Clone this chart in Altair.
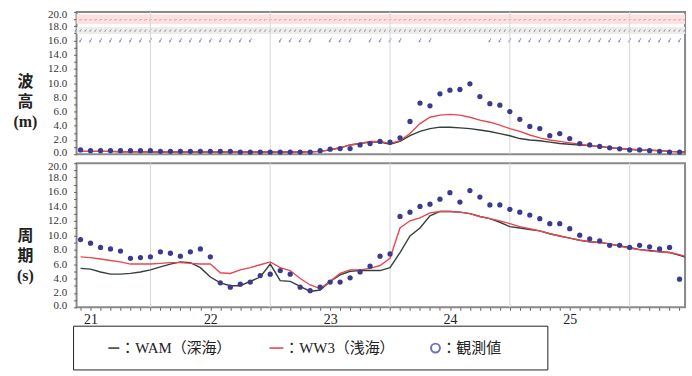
import altair as alt
import pandas as pd

# ---------------- data ----------------
# hours counted from day 21, 00:00 ; observations every 2 h
obs_hours = list(range(-2, 119, 2))          # 61 obs times
model_hours = list(range(-2, 121, 2))        # 62 model times
model_dir_hours = list(range(-3, 120))       # hourly model direction glyphs
grid_hours = [12, 36, 60, 84, 108]
day_ticks = list(range(-2, 119, 2))

obs_height = [0.6, 0.5, 0.5, 0.5, 0.5, 0.5, 0.5, 0.5, 0.4, 0.4, 0.4, 0.4, 0.4, 0.4, 0.4,
              0.4, 0.3, 0.3, 0.3, 0.3, 0.3, 0.3, 0.3, 0.3, 0.5, 0.7, 0.8, 0.8, 1.3, 1.5,
              1.8, 1.7, 2.3, 4.6, 7.2, 6.8, 8.5, 9.0, 9.1, 9.9, 8.1, 7.1, 6.9, 6.0, 4.9,
              3.9, 3.6, 2.6, 2.9, 2.2, 1.5, 1.3, 1.1, 0.9, 0.75, 0.6, 0.6, 0.5, 0.4, 0.3, 0.3]
obs_period = [9.4, 8.9, 8.3, 8.1, 7.8, 6.8, 6.9, 7.0, 7.7, 7.5, 7.1, 7.7, 8.1, 7.0, 3.4,
              2.8, 3.2, 3.5, 4.4, 4.6, 5.1, 4.6, 2.8, 2.3, 2.8, 3.5, 3.5, 4.1, 4.9, 5.7,
              7.1, 7.4, 12.6, 13.2, 14.0, 14.3, 15.0, 15.9, 14.6, 16.2, 15.3, 14.2, 14.2,
              13.6, 13.2, 12.8, 12.3, 11.6, 11.6, 10.9, 10.0, 9.5, 9.2, 8.6, 8.6, 8.3, 8.6,
              8.4, 8.1, 8.3, 3.9]
obs_dir_hours = [-2, 0, 2, 4, 6, 8, 10, 12, 14, 16, 18, 20, 22, 24, 26, 28, 30, 32,
                 38, 40, 42, 44, 48, 50, 52, 56, 58, 60, 62, 66, 68,
                 80, 82, 84, 86, 88, 90, 92, 94, 96, 98, 100, 102, 104, 106, 108, 110,
                 112, 114, 116, 118]

wam_height = [0.4, 0.4, 0.4, 0.4, 0.35, 0.35, 0.35, 0.3, 0.3, 0.3, 0.3, 0.3, 0.3, 0.3,
              0.3, 0.3, 0.3, 0.3, 0.3, 0.3, 0.3, 0.3, 0.3, 0.35, 0.4, 0.6, 0.9, 1.3, 1.5,
              1.7, 1.7, 1.4, 1.8, 2.6, 3.2, 3.6, 3.8, 3.8, 3.7, 3.6, 3.4, 3.2, 2.9, 2.6,
              2.2, 2.0, 1.9, 1.7, 1.5, 1.4, 1.3, 1.2, 1.1, 0.9, 0.8, 0.7, 0.6, 0.55, 0.5,
              0.4, 0.35, 0.3]
ww3_height = [0.4, 0.4, 0.4, 0.4, 0.35, 0.35, 0.35, 0.3, 0.3, 0.3, 0.3, 0.3, 0.3, 0.3,
              0.3, 0.3, 0.3, 0.3, 0.3, 0.3, 0.3, 0.3, 0.3, 0.35, 0.4, 0.6, 0.9, 1.3, 1.5,
              1.8, 1.8, 1.5, 1.9, 2.9, 4.3, 5.2, 5.5, 5.6, 5.5, 5.2, 4.8, 4.5, 4.1, 3.6,
              3.2, 2.7, 2.3, 2.0, 1.8, 1.6, 1.4, 1.2, 1.1, 0.9, 0.8, 0.7, 0.6, 0.55, 0.5,
              0.4, 0.35, 0.3]
wam_period = [5.4, 5.3, 4.9, 4.6, 4.6, 4.7, 4.9, 5.2, 5.6, 6.0, 6.3, 6.2, 5.5, 4.2, 3.4,
              3.0, 3.0, 3.6, 4.2, 6.0, 3.7, 3.6, 2.9, 2.2, 2.4, 3.6, 4.5, 5.0, 5.1, 5.1,
              5.1, 5.5, 7.6, 9.9, 11.0, 12.7, 13.3, 13.3, 13.2, 13.0, 12.6, 12.3, 11.8,
              11.2, 11.0, 10.8, 10.6, 10.2, 9.9, 9.6, 9.3, 9.1, 9.0, 8.8, 8.5, 8.3, 8.0,
              7.9, 7.7, 7.6, 7.2, 6.8]
ww3_period = [7.0, 6.9, 6.7, 6.5, 6.3, 6.0, 6.0, 6.0, 6.1, 6.2, 6.2, 6.1, 6.0, 6.0, 4.8,
              4.7, 5.2, 5.5, 5.9, 6.3, 5.5, 5.1, 4.0, 3.1, 2.6, 3.6, 4.7, 5.2, 5.2, 5.4,
              5.8, 6.8, 11.0, 12.0, 12.4, 13.1, 13.3, 13.3, 13.2, 13.0, 12.6, 12.3, 12.0,
              11.6, 11.2, 10.9, 10.6, 10.2, 9.9, 9.6, 9.3, 9.1, 9.0, 8.8, 8.5, 8.2, 8.0,
              7.8, 7.7, 7.6, 7.3, 6.9]

models = ["WAM", "WW3"]
model_colors = ["#34403a", "#e8474f"]
y_levels = list(range(0, 21))

# ---------------- helpers ----------------
W, H1, H2 = 612, 143, 145
xscale = alt.Scale(domain=[-2.8, 119.1], nice=False, zero=False)
yscale = alt.Scale(domain=[0, 20], nice=False, zero=True)
SERIF = "Liberation Serif"
CJK = "Noto Sans CJK JP"


def y_axis(title, title_y):
    return alt.Axis(values=y_levels, labelExpr="datum.value % 2 == 0 ? format(datum.value, '.1f') : ''",
                    title=title, titleAngle=0, titleAlign="center", titleBaseline="middle",
                    titleX=-52, titleY=title_y, titleFont=f"{SERIF}, {CJK}", titleFontSize=16,
                    titleFontWeight="bold", titleLineHeight=20, titleColor="#222",
                    labelFont=SERIF, labelFontSize=11, labelColor="#333", tickSize=3,
                    labelPadding=7, labelFlush=True, labelFlushOffset=3, labelOverlap=False,
                    labelBound=False, domain=False, grid=False, tickColor="#666")


def x_enc(axis):
    return alt.X("h:Q", scale=xscale, axis=axis)


def y_enc(axis):
    return alt.Y("v:Q", scale=yscale, axis=axis)


def panel(obs_vals, wam_vals, ww3_vals, yaxis, xaxis, extra_layers, height):
    lines = pd.DataFrame({"h": model_hours * 2, "v": wam_vals + ww3_vals,
                          "model": ["WAM"] * len(model_hours) + ["WW3"] * len(model_hours)})
    obs = pd.DataFrame({"h": obs_hours, "v": obs_vals})
    grid = alt.Chart(pd.DataFrame({"h": grid_hours})).mark_rule(
        color="#d6d6d6", strokeWidth=1).encode(x=x_enc(xaxis))
    line = alt.Chart(lines).mark_line(strokeWidth=1.4, clip=True).encode(
        x=x_enc(xaxis), y=y_enc(yaxis),
        color=alt.Color("model:N", scale=alt.Scale(domain=models, range=model_colors), legend=None))
    pts = alt.Chart(obs).mark_circle(size=28, color="#3b3b8e", opacity=1).encode(
        x=x_enc(xaxis), y=y_enc(yaxis))
    return alt.layer(*extra_layers(xaxis, yaxis), grid, line, pts).properties(width=W, height=height)


def top_extras(xaxis, yaxis):
    red_band = alt.Chart(pd.DataFrame({"v": [18.3], "v2": [19.7]})).mark_rect(color="#fbe2e2").encode(
        x=alt.value(0), x2=alt.value(W), y=y_enc(yaxis), y2="v2:Q")
    grey_band = alt.Chart(pd.DataFrame({"v": [16.9], "v2": [17.9]})).mark_rect(color="#ededed").encode(
        x=alt.value(0), x2=alt.value(W), y=y_enc(yaxis), y2="v2:Q")
    red_row = alt.Chart(pd.DataFrame({"h": model_dir_hours, "v": 18.9})).mark_point(
        shape="arrow", filled=True, size=10, angle=250, color="#e05a5a", opacity=0.9).encode(
        x=x_enc(xaxis), y=y_enc(yaxis))
    grey_row = alt.Chart(pd.DataFrame({"h": model_dir_hours, "v": 17.4})).mark_point(
        shape="arrow", filled=True, size=12, angle=215, color="#6b6b6b", opacity=0.9).encode(
        x=x_enc(xaxis), y=y_enc(yaxis))
    obs_row = alt.Chart(pd.DataFrame({"h": obs_dir_hours, "v": 16.0})).mark_point(
        shape="arrow", filled=True, size=28, angle=210, color="#4a4a94").encode(
        x=x_enc(xaxis), y=y_enc(yaxis))
    return [red_band, grey_band, red_row, grey_row, obs_row]


def bottom_extras(xaxis, yaxis):
    return []


def legend_layers():
    one = alt.Data(values=[{"k": 1}])
    box = alt.Chart(one).mark_rect(fill="white", stroke="#222", strokeWidth=1).encode(
        x=alt.value(-3), x2=alt.value(474), y=alt.value(164), y2=alt.value(208))
    wam_key = alt.Chart(one).mark_rule(color=model_colors[0], strokeWidth=1.6).encode(
        x=alt.value(32), x2=alt.value(43), y=alt.value(186))
    ww3_key = alt.Chart(one).mark_rule(color=model_colors[1], strokeWidth=1.6).encode(
        x=alt.value(194), x2=alt.value(208), y=alt.value(186))
    obs_key = alt.Chart(one).mark_point(shape="circle", filled=False, size=80, strokeWidth=2,
                                        color="#3434a0").encode(x=alt.value(361), y=alt.value(186))
    font = f"{SERIF}, {CJK}"
    t1 = alt.Chart(one).mark_text(text="：WAM（深海）", align="left", baseline="middle", font=font,
                                  fontSize=15, color="#222").encode(x=alt.value(44), y=alt.value(186))
    t2 = alt.Chart(one).mark_text(text="：WW3（浅海）", align="left", baseline="middle", font=font,
                                  fontSize=15, color="#222").encode(x=alt.value(209), y=alt.value(186))
    t3 = alt.Chart(one).mark_text(text="：観測値", align="left", baseline="middle", font=font,
                                  fontSize=15, color="#222").encode(x=alt.value(367), y=alt.value(186))
    return [box, wam_key, ww3_key, obs_key, t1, t2, t3]


bottom_xaxis = alt.Axis(values=day_ticks, labelExpr="datum.value % 24 == 0 ? '' + (21 + datum.value / 24) : ''",
                        title=None, labelFont=SERIF, labelFontSize=14, labelColor="#222",
                        tickSize=3, labelPadding=2, domain=False, grid=False, tickColor="#666",
                        labelFlush=False, labelOverlap=False)

top = panel(obs_height, wam_height, ww3_height, y_axis(["波", "高", "(m)"], 70), None, top_extras, H1)
bottom = panel(obs_period, wam_period, ww3_period, y_axis(["周", "期", "(s)"], 73), bottom_xaxis,
               bottom_extras, H2)
bottom = alt.layer(bottom, *legend_layers())

chart = alt.vconcat(top, bottom, spacing=9, bounds="flush").properties(
    padding={"left": 12, "top": 7, "right": 4, "bottom": 3},
    background="white",
).configure_view(stroke="#8a8a8a", strokeWidth=2)

chart.save("out.html", embed_options={"renderer": "svg", "actions": False})
